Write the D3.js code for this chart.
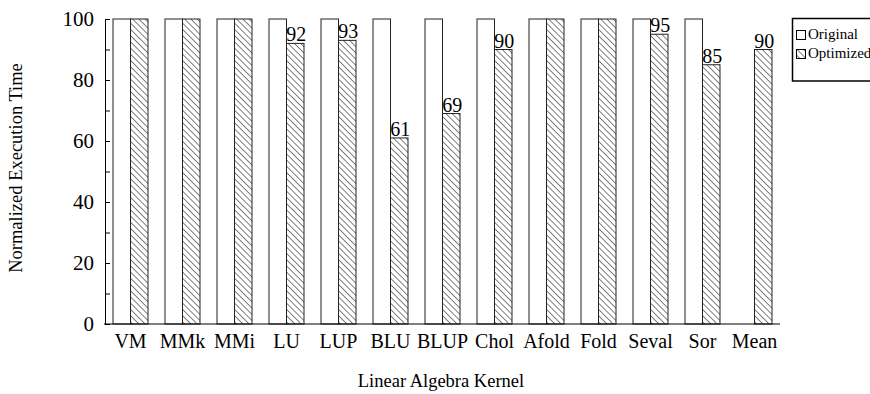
<!DOCTYPE html>
<html>
<head>
<meta charset="utf-8">
<script src="https://cdn.jsdelivr.net/npm/d3@7"></script>
<style>
  html, body { margin: 0; padding: 0; background: #fff; }
  svg { display: block; font-family: "Liberation Serif", "Times New Roman", serif; }
</style>
</head>
<body>
<svg id="chart" width="870" height="394"></svg>
<script>
// Kernels and normalized execution times (original = 100)
const categories = ["VM", "MMk", "MMi", "LU", "LUP", "BLU", "BLUP", "Chol", "Afold", "Fold", "Seval", "Sor", "Mean"];
const originalValues = [100, 100, 100, 100, 100, 100, 100, 100, 100, 100, 100, 100, null];
const optimizedValues = [100, 100, 100, 92, 93, 61, 69, 90, 100, 100, 95, 85, 90];
const seriesNames = ["Original", "Optimized"];
const majorTicks = [0, 20, 40, 60, 80, 100];
const minorTicks = [10, 30, 50, 70, 90];

const svg = d3.select("#chart");

const x = d3.scaleBand().domain(categories).range([105, 780]).paddingInner(0.327).paddingOuter(0.154);
const xs = d3.scaleBand().domain(seriesNames).range([0, x.bandwidth()]);
const y = d3.scaleLinear().domain([0, 100]).range([324, 19]);

// Diagonal hatch fill for the optimized series
const defs = svg.append("defs");
defs.append("pattern")
  .attr("id", "hatch")
  .attr("patternUnits", "userSpaceOnUse")
  .attr("width", 4.4).attr("height", 10)
  .attr("patternTransform", "rotate(-45)")
  .append("line")
  .attr("x1", 0).attr("y1", 0).attr("x2", 0).attr("y2", 10)
  .attr("stroke", "#000").attr("stroke-width", 1);

const rows = categories.map((c, i) => ({ cat: c, original: originalValues[i], optimized: optimizedValues[i] }));

const groups = svg.append("g").selectAll("g")
  .data(rows).join("g")
  .attr("transform", d => `translate(${x(d.cat)},0)`);

groups.filter(d => d.original != null).append("rect")
  .attr("x", xs("Original")).attr("width", xs.bandwidth())
  .attr("y", d => y(d.original)).attr("height", d => y(0) - y(d.original))
  .attr("fill", "#fff").attr("stroke", "#222").attr("stroke-width", 1);

groups.append("rect")
  .attr("x", xs("Optimized")).attr("width", xs.bandwidth())
  .attr("y", d => y(d.optimized)).attr("height", d => y(0) - y(d.optimized))
  .attr("fill", "url(#hatch)").attr("stroke", "#222").attr("stroke-width", 1);

// Value labels on bars that were sped up
groups.filter(d => d.optimized < 100).append("text")
  .attr("x", xs("Optimized") + xs.bandwidth() / 2 + 1)
  .attr("y", d => y(d.optimized) - 2)
  .attr("text-anchor", "middle")
  .attr("font-size", 20)
  .text(d => d.optimized);

// Y axis: minor and major ticks pointing inward
const yMinor = svg.append("g").attr("transform", "translate(105,0)")
  .call(d3.axisLeft(y).tickValues(minorTicks).tickSizeInner(-5).tickSizeOuter(0).tickFormat(""));
yMinor.select(".domain").remove();

const yAxis = svg.append("g").attr("transform", "translate(105,0)")
  .call(d3.axisLeft(y).tickValues(majorTicks).tickSizeInner(-5).tickSizeOuter(0).tickPadding(11));
yAxis.selectAll("text").attr("font-size", 21).attr("font-family", "Liberation Serif, Times New Roman, serif").attr("fill", "#000");
svg.selectAll(".tick line").attr("stroke", "#000");
yAxis.select(".domain").attr("stroke", "#000");

// X axis baseline with category labels
const xAxis = svg.append("g").attr("transform", "translate(0,324)")
  .call(d3.axisBottom(x).tickSize(0).tickPadding(10));
xAxis.selectAll("text").attr("font-size", 20).attr("font-family", "Liberation Serif, Times New Roman, serif").attr("fill", "#000");
xAxis.select(".domain").attr("stroke", "#000").attr("d", "M104,0H780");

// Axis titles
svg.append("text")
  .attr("transform", "translate(22,168) rotate(-90)")
  .attr("text-anchor", "middle")
  .attr("font-size", 18.5)
  .text("Normalized Execution Time");

svg.append("text")
  .attr("x", 441).attr("y", 387)
  .attr("text-anchor", "middle")
  .attr("font-size", 18.5)
  .text("Linear Algebra Kernel");

// Legend
const legend = svg.append("g");
legend.append("rect")
  .attr("x", 792.5).attr("y", 18.5).attr("width", 90).attr("height", 62.5)
  .attr("fill", "#fff").attr("stroke", "#000").attr("stroke-width", 1.5);
const items = legend.selectAll("g.item").data(seriesNames).join("g")
  .attr("class", "item")
  .attr("transform", (d, i) => `translate(796,${30 + i * 19})`);
items.append("rect")
  .attr("x", 0.5).attr("y", 0.5).attr("width", 9).attr("height", 9)
  .attr("fill", d => d === "Original" ? "#fff" : "url(#hatch)")
  .attr("stroke", "#000").attr("stroke-width", 1);
items.append("text")
  .attr("x", 12).attr("y", 9)
  .attr("font-size", 15)
  .text(d => d);
</script>
</body>
</html>
